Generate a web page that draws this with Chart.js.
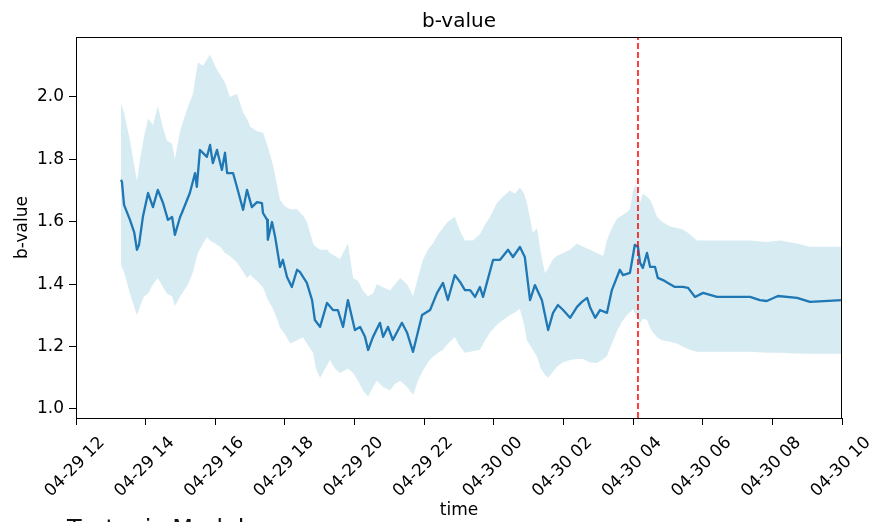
<!DOCTYPE html>
<html>
<head>
<meta charset="utf-8">
<title>b-value</title>
<script src="https://cdn.jsdelivr.net/npm/chart.js@4.4.1/dist/chart.umd.min.js"></script>
<style>
  html, body { margin: 0; padding: 0; background: #fff; overflow: hidden; }
  #wrap { position: relative; width: 874px; height: 522px; overflow: hidden; }
  #below { position: absolute; left: 67px; top: 515px; margin: 0; font: 24px "DejaVu Sans", sans-serif; color: #111; white-space: nowrap; }
</style>
</head>
<body>
<div id="wrap">
  <canvas id="bChart" width="874" height="522"></canvas>
  <h2 id="below">Tectonic Model</h2>
</div>
<script>
// time is in hours counted from 04-29 00:00
const xTicks = [12, 14, 16, 18, 20, 22, 24, 26, 28, 30, 32, 34];
const xTickLabels = ['04-29 12', '04-29 14', '04-29 16', '04-29 18', '04-29 20', '04-29 22',
                     '04-30 00', '04-30 02', '04-30 04', '04-30 06', '04-30 08', '04-30 10'];
const yTicks = [1.0, 1.2, 1.4, 1.6, 1.8, 2.0];

// uncertainty band
const bandTime = [
  13.29, 13.38, 13.55, 13.75, 13.84, 13.95, 14.07, 14.21, 14.35, 14.50,
  14.61, 14.76, 14.84, 14.99, 15.10, 15.22, 15.36, 15.50, 15.65, 15.76,
  15.85, 15.99, 16.14, 16.28, 16.42, 16.62, 16.80, 16.91, 17.00, 17.20,
  17.37, 17.51, 17.66, 17.77, 17.86, 18.00, 18.15, 18.35, 18.52, 18.63,
  18.81, 18.89, 19.01, 19.21, 19.29, 19.44, 19.58, 19.81, 19.96, 20.10,
  20.24, 20.39, 20.53, 20.64, 20.82, 21.02, 21.16, 21.31, 21.51, 21.68,
  21.82, 21.97, 22.11, 22.25, 22.40, 22.54, 22.68, 22.88, 23.03, 23.17,
  23.40, 23.60, 23.75, 23.89, 24.09, 24.26, 24.46, 24.61, 24.75, 24.87,
  24.95, 25.12, 25.24, 25.35, 25.47, 25.56, 25.70, 25.81, 25.99, 26.19,
  26.39, 26.56, 26.76, 26.96, 27.14, 27.25, 27.39, 27.54, 27.68, 27.82,
  27.91, 28.00, 28.08, 28.20, 28.28, 28.40, 28.49, 28.57, 28.69, 28.83,
  29.06, 29.26, 29.43, 29.63, 29.83, 30.12, 30.78, 31.36, 31.84, 32.22,
  32.71, 33.08, 34.00
];
const bandUpper = [
  1.98, 1.95, 1.86, 1.73, 1.80, 1.87, 1.93, 1.91, 1.97, 1.90,
  1.86, 1.85, 1.80, 1.89, 1.93, 1.97, 2.01, 2.11, 2.10, 2.12,
  2.135, 2.10, 2.07, 2.045, 2.00, 2.01, 1.95, 1.93, 1.905, 1.89,
  1.885, 1.84, 1.78, 1.72, 1.67, 1.65, 1.64, 1.64, 1.62, 1.60,
  1.53, 1.52, 1.51, 1.51, 1.50, 1.49, 1.48, 1.53, 1.42, 1.41,
  1.38, 1.36, 1.37, 1.40, 1.39, 1.38, 1.40, 1.42, 1.40, 1.36,
  1.42, 1.48, 1.51, 1.53, 1.56, 1.58, 1.60, 1.615, 1.57, 1.54,
  1.54, 1.56, 1.59, 1.615, 1.66, 1.68, 1.70, 1.69, 1.71, 1.69,
  1.66, 1.565, 1.58, 1.50, 1.435, 1.45, 1.48, 1.49, 1.50, 1.51,
  1.53, 1.52, 1.51, 1.50, 1.49, 1.54, 1.58, 1.61, 1.62, 1.63,
  1.64, 1.70, 1.72, 1.66, 1.69, 1.68, 1.67, 1.65, 1.615, 1.60,
  1.585, 1.58, 1.575, 1.56, 1.54, 1.54, 1.54, 1.54, 1.535, 1.54,
  1.53, 1.52, 1.52
];
const bandLower = [
  1.46, 1.44, 1.37, 1.30, 1.33, 1.36, 1.37, 1.40, 1.42, 1.39,
  1.37, 1.36, 1.33, 1.36, 1.38, 1.40, 1.44, 1.50, 1.53, 1.55,
  1.54, 1.53, 1.52, 1.50, 1.49, 1.47, 1.44, 1.42, 1.43, 1.41,
  1.39, 1.35, 1.32, 1.29, 1.26, 1.24, 1.21, 1.22, 1.23, 1.21,
  1.18, 1.13, 1.10, 1.14, 1.157, 1.13, 1.115, 1.13, 1.115, 1.09,
  1.06, 1.04, 1.07, 1.09, 1.07, 1.06, 1.08, 1.09, 1.07, 1.045,
  1.09, 1.125, 1.15, 1.167, 1.18, 1.19, 1.21, 1.23, 1.20, 1.18,
  1.185, 1.19, 1.22, 1.245, 1.27, 1.285, 1.30, 1.31, 1.32, 1.27,
  1.22, 1.19, 1.167, 1.13, 1.11, 1.10, 1.12, 1.135, 1.15, 1.157,
  1.16, 1.16, 1.15, 1.147, 1.16, 1.17, 1.21, 1.25, 1.28, 1.30,
  1.31, 1.32, 1.30, 1.275, 1.29, 1.285, 1.26, 1.245, 1.23, 1.22,
  1.215, 1.21, 1.20, 1.19, 1.183, 1.183, 1.183, 1.183, 1.18, 1.18,
  1.178, 1.177, 1.177
];

// estimated b-value
const lineTime = [
  13.29, 13.32, 13.38, 13.55, 13.67, 13.75, 13.81, 13.92, 14.07, 14.21,
  14.35, 14.50, 14.64, 14.76, 14.84, 14.99, 15.04, 15.27, 15.42, 15.47,
  15.56, 15.76, 15.85, 15.93, 16.05, 16.19, 16.28, 16.34, 16.51, 16.62,
  16.80, 16.91, 17.05, 17.20, 17.34, 17.37, 17.49, 17.51, 17.63, 17.72,
  17.86, 17.94, 18.06, 18.20, 18.35, 18.43, 18.63, 18.78, 18.86, 19.01,
  19.21, 19.38, 19.52, 19.67, 19.81, 20.01, 20.16, 20.30, 20.39, 20.53,
  20.73, 20.82, 20.96, 21.10, 21.36, 21.51, 21.68, 21.94, 22.17, 22.37,
  22.54, 22.68, 22.88, 23.03, 23.17, 23.32, 23.46, 23.60, 23.69, 23.80,
  23.98, 24.18, 24.41, 24.55, 24.75, 24.89, 25.04, 25.18, 25.38, 25.56,
  25.70, 25.84, 25.99, 26.19, 26.39, 26.53, 26.68, 26.76, 26.91, 27.05,
  27.25, 27.39, 27.62, 27.71, 27.91, 28.05, 28.14, 28.20, 28.28, 28.40,
  28.49, 28.63, 28.71, 28.86, 29.00, 29.20, 29.43, 29.58, 29.78, 30.01,
  30.41, 31.36, 31.64, 31.84, 32.16, 32.71, 33.08, 34.00
];
const bValue = [
  1.734, 1.728, 1.654, 1.606, 1.567, 1.510, 1.526, 1.615, 1.692, 1.647,
  1.702, 1.660, 1.606, 1.615, 1.558, 1.615, 1.628, 1.692, 1.756, 1.712,
  1.830, 1.808, 1.846, 1.788, 1.830, 1.766, 1.821, 1.756, 1.756, 1.712,
  1.638, 1.702, 1.647, 1.663, 1.660, 1.628, 1.606, 1.542, 1.599, 1.551,
  1.455, 1.478, 1.423, 1.391, 1.446, 1.439, 1.404, 1.349, 1.285, 1.263,
  1.340, 1.317, 1.317, 1.263, 1.349, 1.253, 1.263, 1.231, 1.189, 1.231,
  1.276, 1.231, 1.263, 1.221, 1.276, 1.244, 1.183, 1.301, 1.317, 1.372,
  1.404, 1.349, 1.429, 1.407, 1.381, 1.381, 1.359, 1.391, 1.359, 1.404,
  1.478, 1.478, 1.510, 1.487, 1.519, 1.487, 1.349, 1.397, 1.349, 1.253,
  1.308, 1.333, 1.317, 1.292, 1.327, 1.343, 1.356, 1.327, 1.292, 1.317,
  1.308, 1.381, 1.446, 1.429, 1.436, 1.526, 1.519, 1.468, 1.452, 1.500,
  1.455, 1.455, 1.420, 1.413, 1.404, 1.391, 1.391, 1.388, 1.359, 1.372,
  1.359, 1.359, 1.349, 1.346, 1.362, 1.356, 1.343, 1.349
];

// dashed marker (04-30 04:08)
const markerTime = 28.14;

const yMin = 0.971;
const yMax = 2.192;
const font = '"DejaVu Sans", sans-serif';

const toPoints = (xs, ys) => xs.map((t, i) => ({ x: t, y: ys[i] }));

// matplotlib-like axes box, centred title and 45° tick labels centred under the ticks
const axesFrame = {
  id: 'axesFrame',
  afterDraw(chart) {
    const { ctx, chartArea: a, scales: { x } } = chart;
    ctx.save();
    ctx.strokeStyle = '#000';
    ctx.lineWidth = 1;
    ctx.strokeRect(a.left + 0.5, a.top + 0.5, a.right - a.left - 1, a.bottom - a.top);
    ctx.fillStyle = '#000';
    ctx.textAlign = 'center';
    ctx.font = '20px ' + font;
    ctx.textBaseline = 'alphabetic';
    ctx.fillText('b-value', (a.left + a.right) / 2, 27);
    ctx.font = '17px ' + font;
    ctx.textBaseline = 'middle';
    x.ticks.forEach((t, i) => {
      const px = x.getPixelForValue(t.value);
      ctx.save();
      ctx.translate(px - 1, a.bottom + 49);
      ctx.rotate(-Math.PI / 4);
      ctx.fillText(xTickLabels[i], 0, 0);
      ctx.restore();
    });
    ctx.restore();
  }
};

new Chart(document.getElementById('bChart'), {
  type: 'line',
  data: {
    datasets: [
      {
        label: 'upper',
        data: toPoints(bandTime, bandUpper),
        borderWidth: 0,
        pointRadius: 0,
        backgroundColor: 'rgba(173,216,230,0.5)',
        fill: '+1',
        order: 3
      },
      {
        label: 'lower',
        data: toPoints(bandTime, bandLower),
        borderWidth: 0,
        pointRadius: 0,
        fill: false,
        order: 3
      },
      {
        label: 'b-value',
        data: toPoints(lineTime, bValue),
        borderColor: '#1f77b4',
        borderWidth: 2.3,
        borderJoinStyle: 'round',
        pointRadius: 0,
        fill: false,
        order: 1
      },
      {
        label: 'marker',
        data: [{ x: markerTime, y: yMin }, { x: markerTime, y: yMax }],
        borderColor: 'red',
        borderWidth: 1.5,
        borderDash: [6, 3],
        pointRadius: 0,
        fill: false,
        order: 0
      }
    ]
  },
  options: {
    responsive: false,
    animation: false,
    devicePixelRatio: 1,
    layout: { padding: { left: 0, right: 32, top: 37, bottom: 0 } },
    elements: { line: { tension: 0 } },
    plugins: {
      legend: { display: false },
      tooltip: { enabled: false },
      title: { display: false }
    },
    scales: {
      x: {
        type: 'linear',
        min: 12,
        max: 34,
        afterBuildTicks: s => { s.ticks = xTicks.map(v => ({ value: v })); },
        afterFit: s => { s.height = 104; s.paddingLeft = 0; s.paddingRight = 0; },
        ticks: {
          color: 'rgba(0,0,0,0)',
          autoSkip: false,
          maxRotation: 0,
          font: { family: font, size: 8 },
          callback: v => xTickLabels[xTicks.indexOf(v)]
        },
        grid: { drawOnChartArea: false, tickLength: 7, tickColor: '#000' },
        border: { color: '#000' },
        title: {
          display: true,
          text: 'time',
          color: '#000',
          font: { family: font, size: 17 },
          padding: { top: 0, bottom: 1 }
        }
      },
      y: {
        min: yMin,
        max: yMax,
        afterBuildTicks: s => { s.ticks = yTicks.map(v => ({ value: v })); },
        afterFit: s => { s.width = 76; },
        ticks: {
          color: '#000',
          padding: 5,
          font: { family: font, size: 17 },
          callback: v => v.toFixed(1)
        },
        grid: { drawOnChartArea: false, tickLength: 7, tickColor: '#000' },
        border: { color: '#000' },
        title: {
          display: true,
          text: 'b-value',
          color: '#000',
          font: { family: font, size: 17 },
          padding: { top: 12, bottom: 0 }
        }
      }
    }
  },
  plugins: [axesFrame]
});
</script>
</body>
</html>
